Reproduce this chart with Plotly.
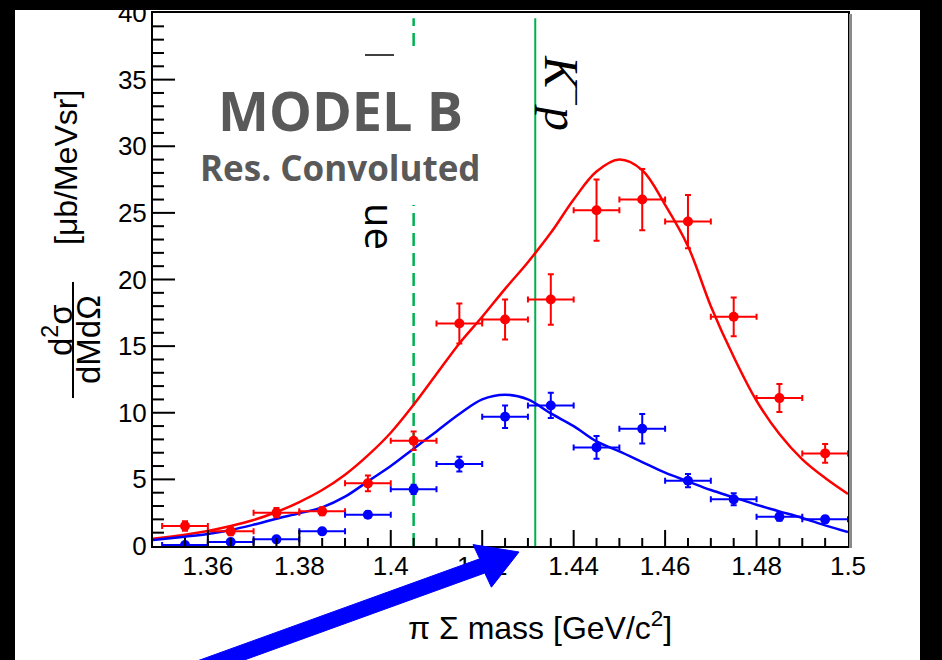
import plotly.graph_objects as go

# ---------------- data ----------------
bin_x = [1.355, 1.365, 1.375, 1.385, 1.395, 1.405, 1.415, 1.425,
         1.435, 1.445, 1.455, 1.465, 1.475, 1.485, 1.495]
bin_half = [0.005] * 15

red_y = [1.5, 1.1, 2.5, 2.6, 4.7, 7.9, 16.7, 17.0,
         18.5, 25.2, 26.0, 24.35, 17.2, 11.1, 6.95]
red_err = [0.35, 0.3, 0.35, 0.3, 0.6, 0.7, 1.5, 1.5,
           1.9, 2.3, 2.3, 2.0, 1.45, 1.05, 0.7]

blue_y = [0.08, 0.3, 0.5, 1.1, 2.35, 4.25, 6.15, 9.7,
          10.55, 7.4, 8.8, 4.9, 3.5, 2.2, 2.0]
blue_err = [0.15, 0.15, 0.15, 0.2, 0.25, 0.35, 0.55, 0.85,
            0.95, 0.85, 1.1, 0.5, 0.45, 0.3, 0.25]

model_x = [1.348, 1.355, 1.36, 1.365, 1.37, 1.375, 1.38, 1.385, 1.39, 1.395,
           1.40, 1.405, 1.41, 1.415, 1.42, 1.425, 1.43, 1.435, 1.44, 1.445,
           1.45, 1.455, 1.46, 1.465, 1.47, 1.475, 1.48, 1.485, 1.49, 1.495, 1.50]
red_model = [0.55, 0.85, 1.13, 1.5, 1.95, 2.55, 3.3, 4.2, 5.35, 6.8,
             8.5, 10.6, 12.9, 15.2, 17.2, 19.3, 21.3, 23.5, 26.0, 28.1,
             29.0, 28.2, 25.6, 22.5, 18.0, 14.2, 10.9, 8.4, 6.5, 5.1, 3.9]
blue_model = [0.45, 0.7, 0.9, 1.2, 1.6, 2.05, 2.45, 2.9, 3.7, 4.85,
              6.0, 7.3, 8.6, 9.9, 11.0, 11.35, 11.0, 9.95, 9.0, 7.85,
              7.1, 6.3, 5.5, 4.85, 4.2, 3.65, 3.1, 2.6, 2.1, 1.55, 1.05]

lambda_1405 = 1.405     # dashed line
kp_threshold = 1.4316   # solid line
line_top = 39.6

x_major = [1.36, 1.38, 1.40, 1.42, 1.44, 1.46, 1.48]
x_minor_step = 0.005
y_major = [5, 10, 15, 20, 25, 30, 35]
y_minor_step = 1

RED = "#ff0000"
BLUE = "#0000ff"
GREEN = "#00b050"
GRAY = "#595959"

# ---------------- plot-area pixel geometry ----------------
W, H = 942, 660
L, R, T, B = 153, 848, 13, 546
PW, PH = R - L, B - T


def px(xp):
    return (xp - L) / PW


def py(yp):
    return (B - yp) / PH


fig = go.Figure()

# vertical reference lines
fig.add_trace(go.Scatter(x=[lambda_1405, lambda_1405], y=[0, line_top], mode="lines",
                         line=dict(color=GREEN, width=2.5, dash="13px,7px"),
                         hoverinfo="skip", showlegend=False))
fig.add_trace(go.Scatter(x=[kp_threshold, kp_threshold], y=[0, line_top], mode="lines",
                         line=dict(color=GREEN, width=2),
                         hoverinfo="skip", showlegend=False))

# model curves
fig.add_trace(go.Scatter(x=model_x, y=red_model, mode="lines",
                         line=dict(color=RED, width=2.5, shape="spline", smoothing=1.0),
                         showlegend=False))
fig.add_trace(go.Scatter(x=model_x, y=blue_model, mode="lines",
                         line=dict(color=BLUE, width=2.5, shape="spline", smoothing=1.0),
                         showlegend=False))

# data points
for ys, es, col in [(red_y, red_err, RED), (blue_y, blue_err, BLUE)]:
    fig.add_trace(go.Scatter(
        x=bin_x, y=ys, mode="markers",
        marker=dict(color=col, size=10, symbol="circle"),
        error_x=dict(type="data", array=bin_half, color=col, thickness=2, width=3),
        error_y=dict(type="data", array=es, color=col, thickness=2, width=3),
        showlegend=False))

shapes = []
# axis tick marks (ROOT style, inside the frame)
n_xminor = int(round((1.50 - 1.35) / x_minor_step))
for i in range(1, n_xminor):
    xv = round(1.35 + i * x_minor_step, 4)
    major = any(abs(xv - m) < 1e-6 for m in x_major)
    ln = 16 if major else 8
    shapes.append(dict(type="line", xref="x", yref="paper", x0=xv, x1=xv,
                       y0=0, y1=ln / PH, line=dict(color="black", width=2),
                       layer="above"))
for i in range(1, 40 // y_minor_step):
    yv = i * y_minor_step
    ln = 22 if yv in y_major else 11
    shapes.append(dict(type="line", xref="paper", yref="y", x0=0, x1=ln / PW,
                       y0=yv, y1=yv, line=dict(color="black", width=2),
                       layer="above"))

# white slide area (below everything)
shapes.append(dict(type="rect", xref="paper", yref="paper",
                   x0=px(15), x1=px(920), y0=py(660), y1=py(10),
                   fillcolor="white", line=dict(width=0), layer="below"))
# white box behind the model label (hides dashed line)
shapes.append(dict(type="rect", xref="paper", yref="paper",
                   x0=px(190), x1=px(490), y0=py(205), y1=py(50),
                   fillcolor="white", line=dict(width=0), layer="above"))
# small overline
shapes.append(dict(type="line", xref="paper", yref="paper",
                   x0=px(365), x1=px(394), y0=py(55), y1=py(55),
                   line=dict(color="black", width=1.5), layer="above"))
# frame shadow on the right
shapes.append(dict(type="line", xref="paper", yref="paper",
                   x0=px(850.5), x1=px(850.5), y0=py(548), y1=py(14),
                   line=dict(color="#8a8a8a", width=3), layer="above"))
# fraction bar of y title
shapes.append(dict(type="line", xref="paper", yref="paper",
                   x0=px(73), x1=px(73), y0=py(282), y1=py(398),
                   line=dict(color="black", width=2), layer="above"))
# blue arrow
arrow_pts = [(197.4, 660.9), (479.7, 558.8), (473.0, 544.6), (519, 552),
             (491.4, 587.2), (484.8, 573.0), (202.6, 675.1)]
path = "M " + " L ".join(f"{px(a):.5f},{py(b):.5f}" for a, b in arrow_pts) + " Z"
shapes.append(dict(type="path", xref="paper", yref="paper", path=path,
                   fillcolor=BLUE, line=dict(color=BLUE, width=1), layer="above"))
# black strip at the top over the "40" label
shapes.append(dict(type="rect", xref="paper", yref="paper",
                   x0=px(0), x1=px(942), y0=py(10), y1=py(0),
                   fillcolor="black", line=dict(width=0), layer="above"))

annotations = [
    dict(text="<b>MODEL B</b>", x=px(340), y=py(110), xref="paper", yref="paper",
         showarrow=False, xanchor="center", yanchor="middle",
         font=dict(family="Open Sans", size=54, color=GRAY)),
    dict(text="<b>Res. Convoluted</b>", x=px(340), y=py(167), xref="paper", yref="paper",
         showarrow=False, xanchor="center", yanchor="middle",
         font=dict(family="Open Sans", size=35, color=GRAY)),
    dict(text="<i>K</i><sup>−</sup><i>p</i>", x=px(565), y=py(93), xref="paper", yref="paper",
         showarrow=False, xanchor="center", yanchor="middle", textangle=90,
         font=dict(family="Liberation Serif", size=48, color="black")),
    dict(text="ue", x=px(380), y=py(226), xref="paper", yref="paper",
         showarrow=False, xanchor="center", yanchor="middle", textangle=90,
         font=dict(family="Open Sans", size=40, color="black")),
    dict(text="π Σ mass [GeV/c<sup>2</sup>]", x=px(540), y=py(626), xref="paper", yref="paper",
         showarrow=False, xanchor="center", yanchor="middle",
         font=dict(family="Liberation Sans", size=32, color="black")),
    dict(text="d<sup>2</sup>σ", x=px(58), y=py(330), xref="paper", yref="paper",
         showarrow=False, xanchor="center", yanchor="middle", textangle=-90,
         font=dict(family="Liberation Sans", size=33, color="black")),
    dict(text="dMdΩ", x=px(88), y=py(340), xref="paper", yref="paper",
         showarrow=False, xanchor="center", yanchor="middle", textangle=-90,
         font=dict(family="Liberation Sans", size=33, color="black")),
    dict(text="[μb/MeVsr]", x=px(66), y=py(168), xref="paper", yref="paper",
         showarrow=False, xanchor="center", yanchor="middle", textangle=-90,
         font=dict(family="Liberation Sans", size=32, color="black")),
]

fig.update_layout(
    width=W, height=H,
    margin=dict(l=L, r=W - R, t=T, b=H - B, pad=0, autoexpand=False),
    paper_bgcolor="black", plot_bgcolor="white",
    shapes=shapes, annotations=annotations,
    showlegend=False,
    xaxis=dict(range=[1.348, 1.5], tickmode="linear", tick0=1.36, dtick=0.02,
               ticks="", automargin=False,
               showline=True, linecolor="black", linewidth=2, mirror=True,
               showgrid=False, zeroline=False, ticklabelstandoff=-4,
               ticklabeloverflow="allow",
               tickfont=dict(family="Liberation Sans", size=26, color="black")),
    yaxis=dict(range=[0, 40], tickmode="linear", tick0=0, dtick=5,
               ticks="", automargin=False,
               showline=True, linecolor="black", linewidth=2, mirror=True,
               showgrid=False, zeroline=False, ticklabelstandoff=-1,
               ticklabeloverflow="allow",
               tickfont=dict(family="Liberation Sans", size=26, color="black")),
)

fig.write_html("out.html")
